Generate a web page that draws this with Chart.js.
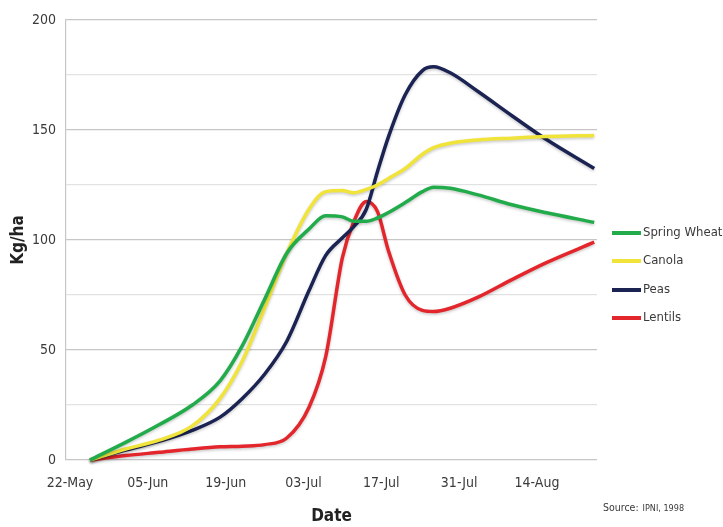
<!DOCTYPE html>
<html>
<head>
<meta charset="utf-8">
<script src="https://cdn.jsdelivr.net/npm/chart.js@4/dist/chart.umd.min.js"></script>
<style>
  html, body { margin: 0; padding: 0; background: #fff; }
  #wrap { width: 723px; height: 527px; position: relative; }
</style>
</head>
<body>
<div id="wrap"><canvas id="c"></canvas></div>
<script>
// days counted from 22-May
var days = [3.6, 10, 16, 22, 27, 31, 35, 39, 43, 46, 49, 51, 53.3, 55.3, 57.3, 60.3, 63.4, 65.4, 68.4, 73.4, 79.5, 85.5, 94.3];
var tickLabels = ["22-May", "05-Jun", "19-Jun", "03-Jul", "17-Jul", "31-Jul", "14-Aug"];
var tickDays = [0, 14, 28, 42, 56, 70, 84];

var springWheat = [0, 8, 16, 25, 36, 52, 73, 94, 105, 111, 110.5, 108.5, 108.5, 110, 112.5, 117, 122, 124, 123.5, 120.5, 116, 112.5, 108];
var canola      = [0, 5, 9, 15.5, 28, 45, 69, 94, 114, 122, 122.5, 121.5, 123, 125, 128, 132.5, 139, 142, 144, 145.5, 146.3, 147, 147.5];
var peas        = [0, 4.5, 8.5, 13.5, 19.5, 28, 39, 54, 77, 93, 101, 106, 114, 131, 147, 166, 177, 178.7, 176, 167.5, 156.5, 146, 132.5];
var lentils     = [0, 2, 3.5, 5, 6, 6.3, 7, 10, 24, 47, 92, 108, 117.5, 113, 95, 75, 68, 67.5, 69, 74, 82, 89.5, 99];

var FONT = '"DejaVu Sans Condensed", "Liberation Sans Narrow", "Noto Sans", sans-serif';
var TEXT = '#3a3a3a';

function pts(vals) {
    return vals.map(function (v, i) { return {x: days[i], y: v}; });
}

function series(label, vals, color) {
    return {
        label: label,
        data: pts(vals),
        borderColor: color,
        backgroundColor: color,
        borderWidth: 3.5,
        pointRadius: 0,
        cubicInterpolationMode: 'monotone',
        fill: false,
        clip: false
    };
}

var shadow = {
    id: 'shadow',
    beforeDatasetsDraw: function (chart) {
        var ctx = chart.ctx;
        ctx.save();
        ctx.shadowColor = 'rgba(0,0,0,0.22)';
        ctx.shadowBlur = 3;
        ctx.shadowOffsetY = 1.5;
    },
    afterDatasetsDraw: function (chart) {
        chart.ctx.restore();
    }
};

// legend at the right + source note
var sideText = {
    id: 'sideText',
    afterDraw: function (chart) {
        var ctx = chart.ctx, rows = [233, 261, 290, 318];
        ctx.save();
        chart.data.datasets.forEach(function (ds, i) {
            ctx.strokeStyle = ds.borderColor;
            ctx.lineWidth = 4;
            ctx.beginPath();
            ctx.moveTo(612, rows[i]);
            ctx.lineTo(641, rows[i]);
            ctx.stroke();
            ctx.fillStyle = TEXT;
            ctx.font = '13px ' + FONT;
            ctx.textBaseline = 'middle';
            ctx.textAlign = 'left';
            ctx.fillText(ds.label, 643, rows[i]);
        });
        ctx.font = '10.5px ' + FONT;
        ctx.textBaseline = 'middle';
        ctx.fillText('Source:', 603, 508);
        var w = ctx.measureText('Source: ').width;
        ctx.font = '9px ' + FONT;
        ctx.fillText('IPNI, 1998', 603 + w + 1, 508.5);
        ctx.restore();
    }
};

new Chart(document.getElementById('c'), {
    type: 'line',
    data: {
        datasets: [
            series('Spring Wheat', springWheat, '#22ab4b'),
            series('Canola', canola, '#f0e43a'),
            series('Peas', peas, '#1b2353'),
            series('Lentils', lentils, '#e3262c')
        ]
    },
    options: {
        responsive: true,
        maintainAspectRatio: false,
        animation: false,
        layout: {padding: {left: 0, right: 126, top: 20, bottom: 0}},
        plugins: {legend: {display: false}, tooltip: {enabled: false}},
        scales: {
            x: {
                type: 'linear',
                min: -0.72,
                max: 94.8,
                afterFit: function (s) { s.height = 67; },
                afterBuildTicks: function (s) {
                    s.ticks = tickDays.map(function (d) { return {value: d}; });
                },
                grid: {display: false, drawTicks: false},
                border: {display: false},
                ticks: {
                    padding: 15,
                    color: TEXT,
                    font: {family: FONT, size: 14},
                    maxRotation: 0,
                    autoSkip: false,
                    callback: function (v) {
                        var i = tickDays.indexOf(v);
                        return i < 0 ? '' : tickLabels[i];
                    }
                },
                title: {
                    display: true,
                    text: 'Date',
                    color: '#222',
                    font: {family: FONT, size: 17, weight: 'bold'},
                    padding: {top: 0, bottom: 0}
                }
            },
            y: {
                min: 0,
                max: 200,
                afterFit: function (s) { s.width = 66; },
                grid: {
                    drawTicks: false,
                    color: function (c) { return c.tick && c.tick.value % 50 === 0 ? '#c6c6c6' : '#e2e2e2'; },
                    lineWidth: 1.2
                },
                border: {display: true, color: '#c6c6c6', width: 1.2},
                ticks: {
                    stepSize: 25,
                    padding: 10,
                    color: TEXT,
                    font: {family: FONT, size: 14},
                    callback: function (v) { return v % 50 === 0 ? v : ''; }
                },
                title: {
                    display: true,
                    text: 'Kg/ha',
                    color: '#222',
                    font: {family: FONT, size: 17, weight: 'bold'},
                    padding: {top: 8, bottom: 0}
                }
            }
        }
    },
    plugins: [shadow, sideText]
});
</script>
</body>
</html>
